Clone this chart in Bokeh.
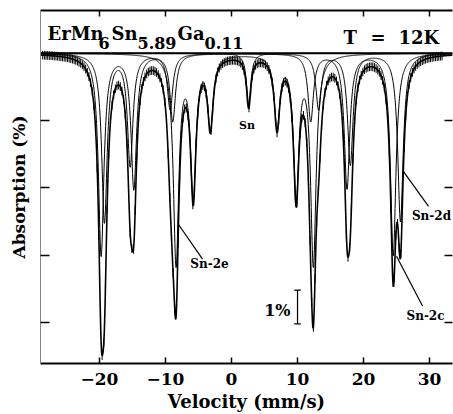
import numpy as np
from bokeh.plotting import figure
from bokeh.models import Range1d, LinearAxis, FixedTicker, Label
from bokeh.embed import file_html
from bokeh.resources import INLINE

# ---- data ----
# fitted sub-spectra: line positions (mm/s), line depths (% absorption), half widths
sn2c_pos = [-19.75, -14.8, -8.9, 12.0, 17.5, 24.5]
sn2c_depth = [6.0, 4.0, 2.0, 2.0, 4.0, 6.0]
sn2c_hw = 0.5
sn2d_pos = [-19.25, -15.35, -9.3, 13.2, 18.0, 25.6]
sn2d_depth = [5.0, 3.3, 1.65, 1.65, 3.3, 5.0]
sn2d_hw = 0.5
sn2e_pos = [-8.4, -5.8, -3.2, 6.9, 9.8, 12.4]
sn2e_depth = [6.2, 4.1, 2.1, 2.1, 4.1, 6.2]
sn2e_hw = 0.5
snimp_pos = [2.6]
snimp_depth = [1.5]
snimp_hw = 0.4
data_err = 0.13          # error bar half length (%)
data_step = 0.25         # velocity step of measured points

x_ticks = [-20, -10, 0, 10, 20, 30]
x_tick_labels = {-20: "\u221220", -10: "\u221210", 0: "0", 10: "10", 20: "20", 30: "30"}
y_ticks = [2, 4, 6, 8]

FONT = "DejaVu Serif"

def subspectrum(v, pos, depth, hw):
    out = np.zeros_like(v)
    for p0, d0 in zip(pos, depth):
        out += d0 / (1.0 + ((v - p0) / hw) ** 2)
    return out

XMIN, XMAX = -28.94, 33.48
YBOT, YTOP = 9.22, -1.27

p = figure(width=453, height=414, x_range=Range1d(XMIN, XMAX), y_range=Range1d(YBOT, YTOP),
           output_backend="svg", toolbar_location=None,
           min_border_left=40, min_border_right=1, min_border_top=10, min_border_bottom=49)
p.outline_line_color = None
p.grid.visible = False
p.background_fill_color = "white"

v = np.linspace(XMIN, XMAX, 1500)
c2c = subspectrum(v, sn2c_pos, sn2c_depth, sn2c_hw)
c2d = subspectrum(v, sn2d_pos, sn2d_depth, sn2d_hw)
c2e = subspectrum(v, sn2e_pos, sn2e_depth, sn2e_hw)
cimp = subspectrum(v, snimp_pos, snimp_depth, snimp_hw)
tot = c2c + c2d + c2e + cimp

# baseline
p.line([XMIN, XMAX], [0, 0], line_color="black", line_width=2)
for comp in (c2c, c2d, c2e, cimp):
    p.line(v, comp, line_color="black", line_width=1)
p.line(v, tot, line_color="black", line_width=1.6)

vd = np.arange(-28.6, 32.0, data_step)
td = (subspectrum(vd, sn2c_pos, sn2c_depth, sn2c_hw) + subspectrum(vd, sn2d_pos, sn2d_depth, sn2d_hw)
      + subspectrum(vd, sn2e_pos, sn2e_depth, sn2e_hw) + subspectrum(vd, snimp_pos, snimp_depth, snimp_hw))
p.segment(x0=vd, y0=td - data_err, x1=vd, y1=td + data_err, line_color="black", line_width=1)

# ---- axes ----
xb = p.xaxis[0]
xb.ticker = FixedTicker(ticks=x_ticks)
xb.major_label_overrides = x_tick_labels
xb.minor_tick_line_color = None
xb.major_tick_in = 6
xb.major_tick_out = 0
xb.axis_line_width = 2
xb.axis_line_color = "black"
xb.major_tick_line_width = 1.5
xb.major_label_text_font = FONT
xb.major_label_text_font_style = "bold"
xb.major_label_text_font_size = "17px"
xb.major_label_text_color = "black"
xb.major_label_standoff = 9
xb.axis_label = "Velocity (mm/s)"
xb.axis_label_text_font = FONT
xb.axis_label_text_font_style = "bold"
xb.axis_label_text_font_size = "18px"
xb.axis_label_text_color = "black"
xb.axis_label_standoff = 3

blank_y = {t: "" for t in y_ticks}
blank_x = {t: "" for t in x_ticks}

yl = p.yaxis[0]
yl.ticker = FixedTicker(ticks=y_ticks)
yl.major_label_overrides = blank_y
yl.minor_tick_line_color = None
yl.major_tick_in = 9
yl.major_tick_out = 0
yl.axis_line_color = "#888888"
yl.axis_line_width = 1
yl.major_tick_line_color = "black"
yl.major_tick_line_width = 1.5
yl.major_label_standoff = 0
yl.axis_label = "Absorption (%)"
yl.axis_label_text_font = FONT
yl.axis_label_text_font_style = "bold"
yl.axis_label_text_font_size = "17px"
yl.axis_label_text_color = "black"
yl.axis_label_standoff = 12

xt = LinearAxis(ticker=FixedTicker(ticks=x_ticks), major_tick_in=6, major_tick_out=0,
                minor_tick_line_color=None, axis_line_width=2, major_tick_line_width=1.5,
                axis_line_color="black", major_tick_line_color="black",
                major_label_overrides=blank_x, major_label_standoff=0)
p.add_layout(xt, "above")
yr = LinearAxis(ticker=FixedTicker(ticks=y_ticks), major_tick_in=8, major_tick_out=0,
                minor_tick_line_color=None, axis_line_width=1, major_tick_line_width=1.5,
                axis_line_color=None, major_tick_line_color="black",
                major_label_overrides=blank_y, major_label_standoff=0)
p.add_layout(yr, "right")

# ---- texts ----
def lab(x, y, t, size, align="left", base="alphabetic"):
    p.add_layout(Label(x=x, y=y, text=t, text_font=FONT, text_font_style="bold",
                       text_font_size=size, text_align=align, text_baseline=base,
                       text_color="black"))

lab(-27.88, -0.59, "ErMn", "18px")
lab(-20.15, -0.295, "6", "16px")
lab(-18.18, -0.59, "Sn", "18px")
lab(-14.24, -0.295, "5.89", "16px")
lab(-8.18, -0.59, "Ga", "18px")
lab(-4.09, -0.295, "0.11", "16px")
lab(16.97, -0.47, "T", "18px")
lab(21.06, -0.47, "=", "18px")
lab(25.3, -0.47, "12K", "18px")

lab(2.35, 2.16, "Sn", "11px", "center", "middle")
lab(-3.33, 6.27, "Sn-2e", "12px", "center", "middle")
lab(30.3, 4.85, "Sn-2d", "12px", "center", "middle")
lab(29.39, 7.82, "Sn-2c", "12px", "center", "middle")
lab(8.94, 7.64, "1%", "16px", "right", "middle")

# pointer lines and the 1% scale bar
ptr_x0 = [-8.03, 26.06, 25.0]
ptr_y0 = [5.09, 3.52, 6.03]
ptr_x1 = [-4.39, 29.85, 28.94]
ptr_y1 = [6.12, 4.55, 7.51]
p.segment(x0=ptr_x0, y0=ptr_y0, x1=ptr_x1, y1=ptr_y1, line_color="black", line_width=1.2)
bar_v = 10.0
bar_lo, bar_hi = 7.04, 8.04
p.segment(x0=[bar_v, bar_v - 0.5, bar_v - 0.5], y0=[bar_lo, bar_lo, bar_hi],
          x1=[bar_v, bar_v + 0.5, bar_v + 0.5], y1=[bar_hi, bar_lo, bar_hi],
          line_color="black", line_width=1.2)

open("out.html", "w").write(file_html(p, INLINE))
